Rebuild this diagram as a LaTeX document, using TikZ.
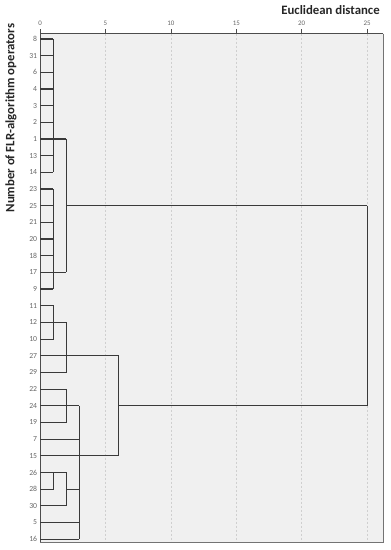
\documentclass[tikz,border=0pt]{standalone}
\usepackage{fontspec}
\setmainfont{Carlito}
\usetikzlibrary{positioning}
\definecolor{plotbg}{HTML}{F0F0F0}
\definecolor{treeline}{HTML}{3A3A3A}
\definecolor{gridgray}{HTML}{CFCFCF}
\tikzset{
  link/.style={treeline, line width=0.9pt},
  leaflabel/.style={anchor=east, inner sep=1pt, font=\fontsize{5.8}{6}\selectfont, text=black!60},
  ticklabel/.style={inner sep=1pt, font=\fontsize{5.2}{6}\selectfont, text=black!60},
  axistitle/.style={font=\bfseries\fontsize{9.6}{11}\selectfont, text=black!85}
}

\begin{document}
\begin{tikzpicture}[x=9.81pt, y=-12.5pt]
        \useasboundingbox (-3.06,-2.34) rectangle (26.76,30.65);

        % Fundo e grade
        \fill[plotbg] (0,-0.33) rectangle (26.25,30.17);
        \foreach \d in {5,10,...,25}
            \draw[gridgray, dash pattern=on 1.5pt off 1.5pt] (\d,-0.33) -- (\d,30.17);
        \draw[black!55] (26.25,-0.33) -- (26.25,30.17) -- (0,30.17);

        % Eixos
        \draw[black!70, line width=0.8pt] (0,30.17) -- (0,-0.33) -- (26.25,-0.33);
        \foreach \d in {0,5,...,25} {
            \draw[black!70] (\d,-0.33) -- (\d,-0.6);
            \node[ticklabel] (tick\d) at (\d,-0.96) {\d};
        }
        \node[axistitle] (xtitle) at (22.2,-1.74) {Euclidean distance};
        \node[axistitle, rotate=90] (ytitle) at (-2.22,4.74) {Number of FLR-algorithm operators};

        % Operadores
        \foreach \lab [count=\i from 0] in {8,31,6,4,3,2,1,13,14,23,25,21,20,18,17,9,11,12,10,27,29,22,24,19,7,15,26,28,30,5,16}
            \node[leaflabel] (op\lab) at (-0.1,\i) {\lab};

        % Grupo A
        \foreach \r in {0,...,8}
            \draw[link] (0,\r) -- (1,\r);
        \draw[link] (1,0) -- (1,8);
        \draw[link] (1,6) -- (2,6);

        % Grupo B
        \foreach \r in {9,...,15}
            \draw[link] (0,\r) -- (1,\r);
        \draw[link] (1,9) -- (1,15);
        \draw[link] (1,14) -- (2,14);
        \draw[link] (2,6) -- (2,14);
        \draw[link] (2,10) -- (25,10);

        % Grupo C
        \draw[link] (0,16) -- (1,16) -- (1,18) -- (0,18);
        \draw[link] (0,17) -- (2,17);
        \draw[link] (2,17) -- (2,20) -- (0,20);
        \draw[link] (0,19) -- (6,19);

        % Grupo D
        \draw[link] (0,21) -- (2,21) -- (2,23) -- (0,23);
        \draw[link] (0,22) -- (3,22);
        \draw[link] (0,24) -- (3,24);
        \draw[link] (0,25) -- (6,25);
        \draw[link] (0,26) -- (2,26);
        \draw[link] (1,26) -- (1,27) -- (0,27);
        \draw[link] (2,26) -- (2,28) -- (0,28);
        \draw[link] (2,27) -- (3,27);
        \draw[link] (0,29) -- (3,29);
        \draw[link] (0,30) -- (3,30);
        \draw[link] (3,22) -- (3,30);
        \draw[link] (6,19) -- (6,25);
        \draw[link] (6,22) -- (25,22);
        \draw[link] (25,10) -- (25,22);

    \end{tikzpicture}
\end{document}
